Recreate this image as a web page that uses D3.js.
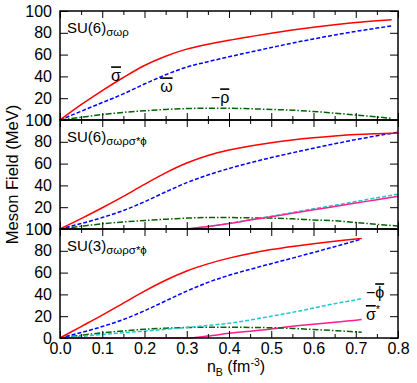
<!DOCTYPE html>
<html>
<head>
<meta charset="utf-8">
<script src="https://cdn.jsdelivr.net/npm/d3@7"></script>
<style>
body { margin: 0; background: #fff; }
svg text { font-family: "Liberation Sans", Arial, sans-serif; fill: #000; }
.axis .tick text { font-size: 16px; }
.axis .tick line { stroke: #000; stroke-width: 1; }
.frame { fill: none; stroke: #000; stroke-width: 1.5; }
.ov { text-decoration: overline; }
</style>
</head>
<body>
<script>
// svg params
const svgW = 417;
const svgH = 383;
const x0 = 60, x1 = 398;
const plotTop = 11;
const panelH = 109;

// panel 1 : SU(6) sigma omega rho
const nSU6a = [0, 0.05, 0.1, 0.15, 0.2, 0.25, 0.3, 0.35, 0.4, 0.45, 0.5, 0.55, 0.6, 0.65, 0.7, 0.75, 0.785];
const sigmaSU6a = [0, 14, 27, 39, 50, 58.5, 65, 69.5, 73.2, 76.5, 79.6, 82.5, 85.1, 87.4, 89.4, 91, 92];
const omegaSU6a = [0, 8, 16, 24, 33, 41.5, 48.5, 53.5, 58, 62.3, 66.5, 70.6, 74.4, 78, 81.3, 84.3, 86.3];
const rhoSU6a = [0, 2.5, 5, 7, 8.5, 9.7, 10.5, 10.8, 10.8, 10.3, 9.7, 9, 7.8, 6.3, 4.6, 2.8, 1.5];

// panel 2 : SU(6) sigma omega rho sigma* phi
const nSU6b = [0, 0.05, 0.1, 0.15, 0.2, 0.25, 0.3, 0.35, 0.4, 0.45, 0.5, 0.55, 0.6, 0.65, 0.7, 0.75, 0.8];
const sigmaSU6b = [0, 9.5, 19.5, 30, 41, 51.5, 60.5, 67.5, 72.5, 76.2, 79.2, 81.7, 83.7, 85.3, 86.6, 87.4, 88];
const omegaSU6b = [0, 5, 10.5, 17, 25, 34, 42.5, 49.5, 55.5, 60.8, 65.5, 69.9, 74.1, 78.2, 82, 85.5, 88.7];
const rhoSU6b = [0, 2.5, 4.8, 6.5, 7.8, 9, 10, 10.5, 10.5, 10.2, 10, 9.3, 8.3, 7.5, 6, 4.3, 2.8];
const nStrangeSU6b = [0.3, 0.35, 0.4, 0.45, 0.5, 0.55, 0.6, 0.65, 0.7, 0.75, 0.8];
const phiSU6b = [0, 2.3, 5.2, 8.5, 11.8, 15.1, 18.5, 21.8, 25.2, 28.6, 32];
const sigmaStarSU6b = [0, 2.2, 5, 8.2, 11.3, 14.4, 17.6, 20.7, 23.8, 26.9, 30];

// panel 3 : SU(3) sigma omega rho sigma* phi
const nSU3 = [0, 0.05, 0.1, 0.15, 0.2, 0.25, 0.3, 0.35, 0.4, 0.45, 0.5, 0.55, 0.6, 0.65, 0.7, 0.714];
const sigmaSU3 = [0, 10.5, 21, 32, 43, 53, 61.5, 68, 73.3, 77.6, 81.1, 84, 86.5, 88.7, 90.8, 91.4];
const omegaSU3 = [0, 5, 10.5, 17, 25, 34, 43, 51, 57.5, 63, 68.2, 73.3, 78.5, 83.8, 89.3, 91];
const rhoSU3 = [0, 2.5, 4.8, 6.5, 8, 9, 9.6, 9.9, 9.9, 9.7, 9.4, 8.8, 7.8, 6.8, 5.6, 5.2];
const phiSU3 = [0, 1.5, 3.2, 4.8, 6.3, 8, 9.7, 11.5, 13.5, 16.5, 20, 23.5, 27.5, 31.5, 35, 36.2];
const sigmaStarSU3 = [0, 0, 0, 0, 0, 0, 0, 1.8, 4.3, 6.2, 8.3, 10.8, 12.6, 14.5, 16.3, 16.9];

// ticks
const xMajor = [0, 0.1, 0.2, 0.3, 0.4, 0.5, 0.6, 0.7, 0.8];
const xMinor = [0.05, 0.15, 0.25, 0.35, 0.45, 0.55, 0.65, 0.75];
const yTicks = [0, 20, 40, 60, 80, 100];

const styles = {
	sigma: { color: '#ff0000', dash: null },
	omega: { color: '#0000ff', dash: '4,2' },
	rho: { color: '#006400', dash: '6,2,1.5,2' },
	phi: { color: '#1ec8d2', dash: '4,2' },
	sigmaStar: { color: '#ff1e8c', dash: null }
};

const panels = [
	{
		title: 'SU(6)', sub: 'σωρ',
		series: [
			{ key: 'rho', n: nSU6a, v: rhoSU6a },
			{ key: 'omega', n: nSU6a, v: omegaSU6a },
			{ key: 'sigma', n: nSU6a, v: sigmaSU6a }
		],
		notes: [
			{ n: 0.121, v: 35.5, pre: '', sym: 'σ', post: '' },
			{ n: 0.237, v: 25.4, pre: '', sym: 'ω', post: '' },
			{ n: 0.357, v: 15.3, pre: '−', sym: 'ρ', post: '' }
		]
	},
	{
		title: 'SU(6)', sub: 'σωρσ*ϕ',
		series: [
			{ key: 'rho', n: nSU6b, v: rhoSU6b },
			{ key: 'phi', n: nStrangeSU6b, v: phiSU6b },
			{ key: 'sigmaStar', n: nStrangeSU6b, v: sigmaStarSU6b },
			{ key: 'omega', n: nSU6b, v: omegaSU6b },
			{ key: 'sigma', n: nSU6b, v: sigmaSU6b }
		],
		notes: []
	},
	{
		title: 'SU(3)', sub: 'σωρσ*ϕ',
		series: [
			{ key: 'sigmaStar', n: nSU3, v: sigmaStarSU3 },
			{ key: 'rho', n: nSU3, v: rhoSU3 },
			{ key: 'phi', n: nSU3, v: phiSU3 },
			{ key: 'omega', n: nSU3, v: omegaSU3 },
			{ key: 'sigma', n: nSU3, v: sigmaSU3 }
		],
		notes: [
			{ n: 0.724, v: 36.5, pre: '−', sym: 'ϕ', post: '' },
			{ n: 0.724, v: 16.5, pre: '', sym: 'σ', post: '*' }
		]
	}
];

const svg = d3.select('body').append('svg').attr('width', svgW).attr('height', svgH);

const x = d3.scaleLinear().domain([0, 0.8]).range([x0, x1]);

panels.forEach((p, pi) => {
	const top = plotTop + pi * panelH;
	const y = d3.scaleLinear().domain([0, 100]).range([top + panelH, top]);
	const line = d3.line().x((d) => x(d[0])).y((d) => y(d[1])).curve(d3.curveMonotoneX);

	/*
		curves
	*/
	p.series.forEach((s) => {
		const st = styles[s.key];
		svg
			.append('path')
			.datum(s.n.map((n, i) => [ n, s.v[i] ]))
			.attr('d', line)
			.attr('fill', 'none')
			.attr('stroke', st.color)
			.attr('stroke-width', 1.5)
			.attr('stroke-dasharray', st.dash);
	});

	/*
		axes
	*/
	svg
		.append('g')
		.attr('class', 'axis')
		.attr('transform', 'translate(' + x0 + ',0)')
		.call(d3.axisLeft(y).tickValues(yTicks).tickSize(-8).tickPadding(8))
		.call((g) => g.select('.domain').remove());
	svg
		.append('g')
		.attr('class', 'axis')
		.attr('transform', 'translate(' + x1 + ',0)')
		.call(d3.axisRight(y).tickValues(yTicks).tickSize(-8).tickFormat(''))
		.call((g) => g.select('.domain').remove());

	[ [ top, d3.axisTop ], [ top + panelH, d3.axisBottom ] ].forEach(([ yy, ax ]) => {
		const last = pi === panels.length - 1 && ax === d3.axisBottom;
		svg
			.append('g')
			.attr('class', 'axis')
			.attr('transform', 'translate(0,' + yy + ')')
			.call(ax(x).tickValues(xMajor).tickSize(-7).tickPadding(5).tickFormat(last ? d3.format('.1f') : ''))
			.call((g) => g.select('.domain').remove());
		svg
			.append('g')
			.attr('class', 'axis')
			.attr('transform', 'translate(0,' + yy + ')')
			.call(ax(x).tickValues(xMinor).tickSize(-4).tickFormat(''))
			.call((g) => g.select('.domain').remove());
	});

	svg.append('rect').attr('class', 'frame').attr('x', x0).attr('y', top).attr('width', x1 - x0).attr('height', panelH);

	/*
		titles
	*/
	const t = svg.append('text').attr('x', x(0.0166)).attr('y', y(79.5)).attr('font-size', 15);
	t.append('tspan').text(p.title);
	t.append('tspan').attr('font-size', 11.5).attr('dy', 3).text(p.sub);

	p.notes.forEach((nt) => {
		const tx = svg.append('text').attr('x', x(nt.n)).attr('y', y(nt.v)).attr('font-size', 16);
		if (nt.pre) tx.append('tspan').text(nt.pre);
		tx.append('tspan').attr('class', 'ov').text(nt.sym);
		if (nt.post) tx.append('tspan').attr('font-size', 11).attr('dy', -7).text(nt.post);
	});
});

// axis titles
const xl = svg.append('text').attr('x', 236).attr('y', 372).attr('text-anchor', 'middle').attr('font-size', 16);
xl.append('tspan').text('n');
xl.append('tspan').attr('font-size', 10.5).attr('dy', 4).text('B');
xl.append('tspan').attr('dy', -4).text(' (fm');
xl.append('tspan').attr('font-size', 10.5).attr('dy', -6).text('-3');
xl.append('tspan').attr('dy', 6).text(')');

svg
	.append('text')
	.attr('transform', 'translate(18,' + (plotTop + panelH * 1.5) + ') rotate(-90)')
	.attr('text-anchor', 'middle')
	.attr('font-size', 16.5)
	.text('Meson Field (MeV)');
</script>
</body>
</html>
